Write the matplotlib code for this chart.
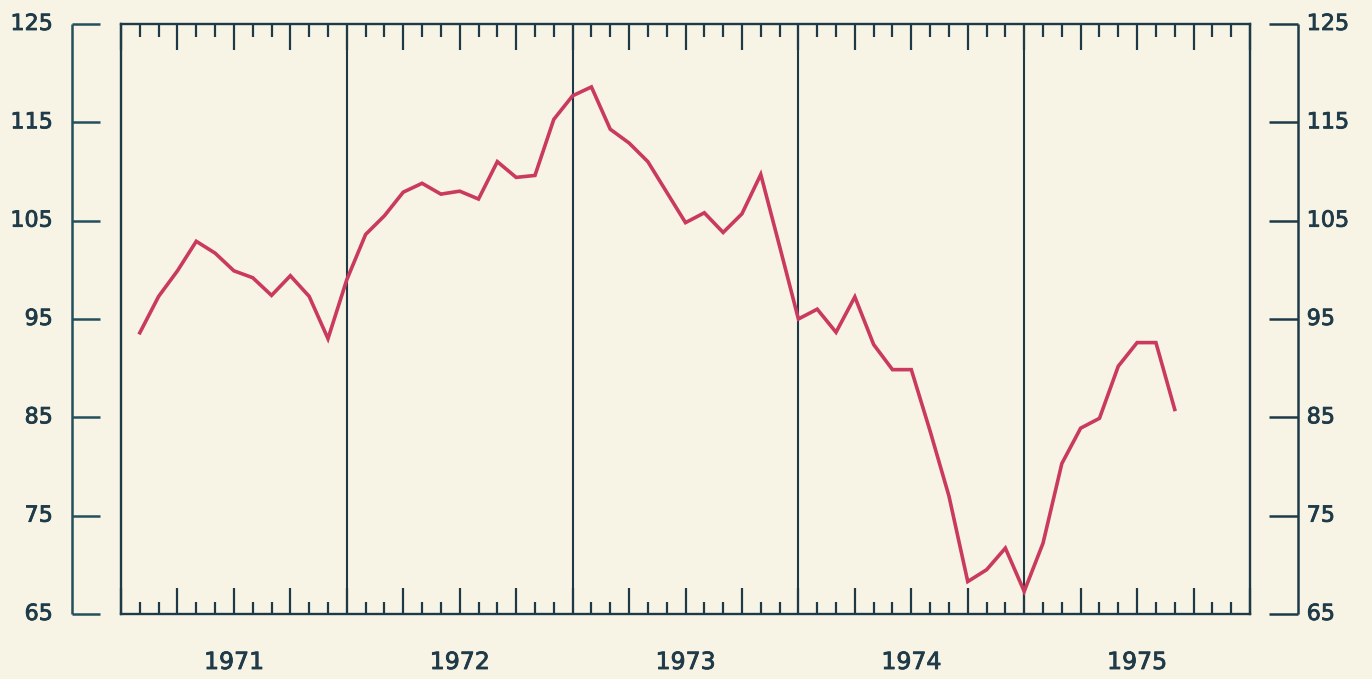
import matplotlib
matplotlib.use("Agg")
import matplotlib.pyplot as plt
from matplotlib.ticker import MultipleLocator, NullFormatter
import matplotlib.transforms as mtransforms
import matplotlib.patheffects as pe

# ---- data ----
years = ["1971", "1972", "1973", "1974", "1975"]
months = list(range(1, 57))  # month index (end of month), Jan 1971 = 1
values = [93.6, 97.3, 99.9, 102.9, 101.7, 99.9, 99.2, 97.4, 99.4, 97.3, 93.0, 99.0,
          103.6, 105.5, 107.9, 108.8, 107.7, 108.0, 107.2, 111.0, 109.4, 109.6, 115.3, 117.7,
          118.6, 114.3, 112.9, 111.0, 107.9, 104.8, 105.8, 103.8, 105.7, 109.7, 102.4, 95.0,
          96.0, 93.65, 97.25, 92.4, 89.85, 89.85, 83.6, 77.0, 68.3, 69.5, 71.7, 67.3,
          72.2, 80.3, 83.9, 84.9, 90.2, 92.6, 92.6, 85.8]
scale_ticks = [65, 75, 85, 95, 105, 115, 125]

# ---- style ----
W, H = 1372, 679
BG = "#f7f4e5"
FRAME = "#1e3a48"
SCALE = "#24505e"
TEXT = "#1f3a48"
LINE = "#c93a5e"
FS = 16
STROKE = [pe.withStroke(linewidth=0.6, foreground=TEXT)]

fig = plt.figure(figsize=(W / 100, H / 100), dpi=100, facecolor=BG)

def px_axes(x0, x1, ytop, ybot):
    return fig.add_axes([x0 / W, (H - ybot) / H, (x1 - x0) / W, (ybot - ytop) / H])

ytop, ybot = 24, 614

# main panel
ax = px_axes(121, 1250, ytop, ybot)
ax.set_facecolor(BG)
ax.set_xlim(0, 60)
ax.set_ylim(65, 125)
for s in ax.spines.values():
    s.set_color(FRAME)
    s.set_linewidth(1.7)
ax.xaxis.set_major_locator(MultipleLocator(3))
ax.xaxis.set_minor_locator(MultipleLocator(1))
ax.xaxis.set_major_formatter(NullFormatter())
ax.tick_params(axis="x", which="major", direction="in", top=True, bottom=True,
               length=19, width=1.6, color=FRAME)
ax.tick_params(axis="x", which="minor", direction="in", top=True, bottom=True,
               length=9, width=1.6, color=FRAME)
ax.set_yticks([])
for xb in [12, 24, 36, 48]:
    ax.axvline(xb, color=FRAME, lw=1.5, zorder=1)
ax.plot(months, values, color=LINE, lw=2.6, zorder=3, solid_joinstyle="miter")

trans = mtransforms.blended_transform_factory(ax.transData, fig.transFigure)
for i, yr in enumerate(years):
    ax.text(12 * i + 6, (H - 662) / H, yr, transform=trans, ha="center", va="center",
            fontsize=FS + 1, color=TEXT, family="DejaVu Sans", path_effects=STROKE)

# left scale
axl = px_axes(72, 100, ytop, ybot)
axl.set_xlim(0, 1)
axl.set_ylim(65, 125)
axl.axis("off")
axl.vlines(0, 65, 125, color=SCALE, lw=1.8, clip_on=False)
axl.hlines(scale_ticks, 0, 1, color=SCALE, lw=1.8, clip_on=False)
for t in scale_ticks:
    axl.text(-0.68, t, str(t), ha="right", va="center", fontsize=FS, color=TEXT,
             family="DejaVu Sans", clip_on=False, path_effects=STROKE)

# right scale
axr = px_axes(1269, 1298, ytop, ybot)
axr.set_xlim(0, 1)
axr.set_ylim(65, 125)
axr.axis("off")
axr.vlines(1, 65, 125, color=FRAME, lw=1.8, clip_on=False)
axr.hlines(scale_ticks, 0, 1, color=FRAME, lw=1.8, clip_on=False)
for t in scale_ticks:
    axr.text(1.3, t, str(t), ha="left", va="center", fontsize=FS, color=TEXT,
             family="DejaVu Sans", clip_on=False, path_effects=STROKE)

fig.savefig("out.png", dpi=100, facecolor=BG)
